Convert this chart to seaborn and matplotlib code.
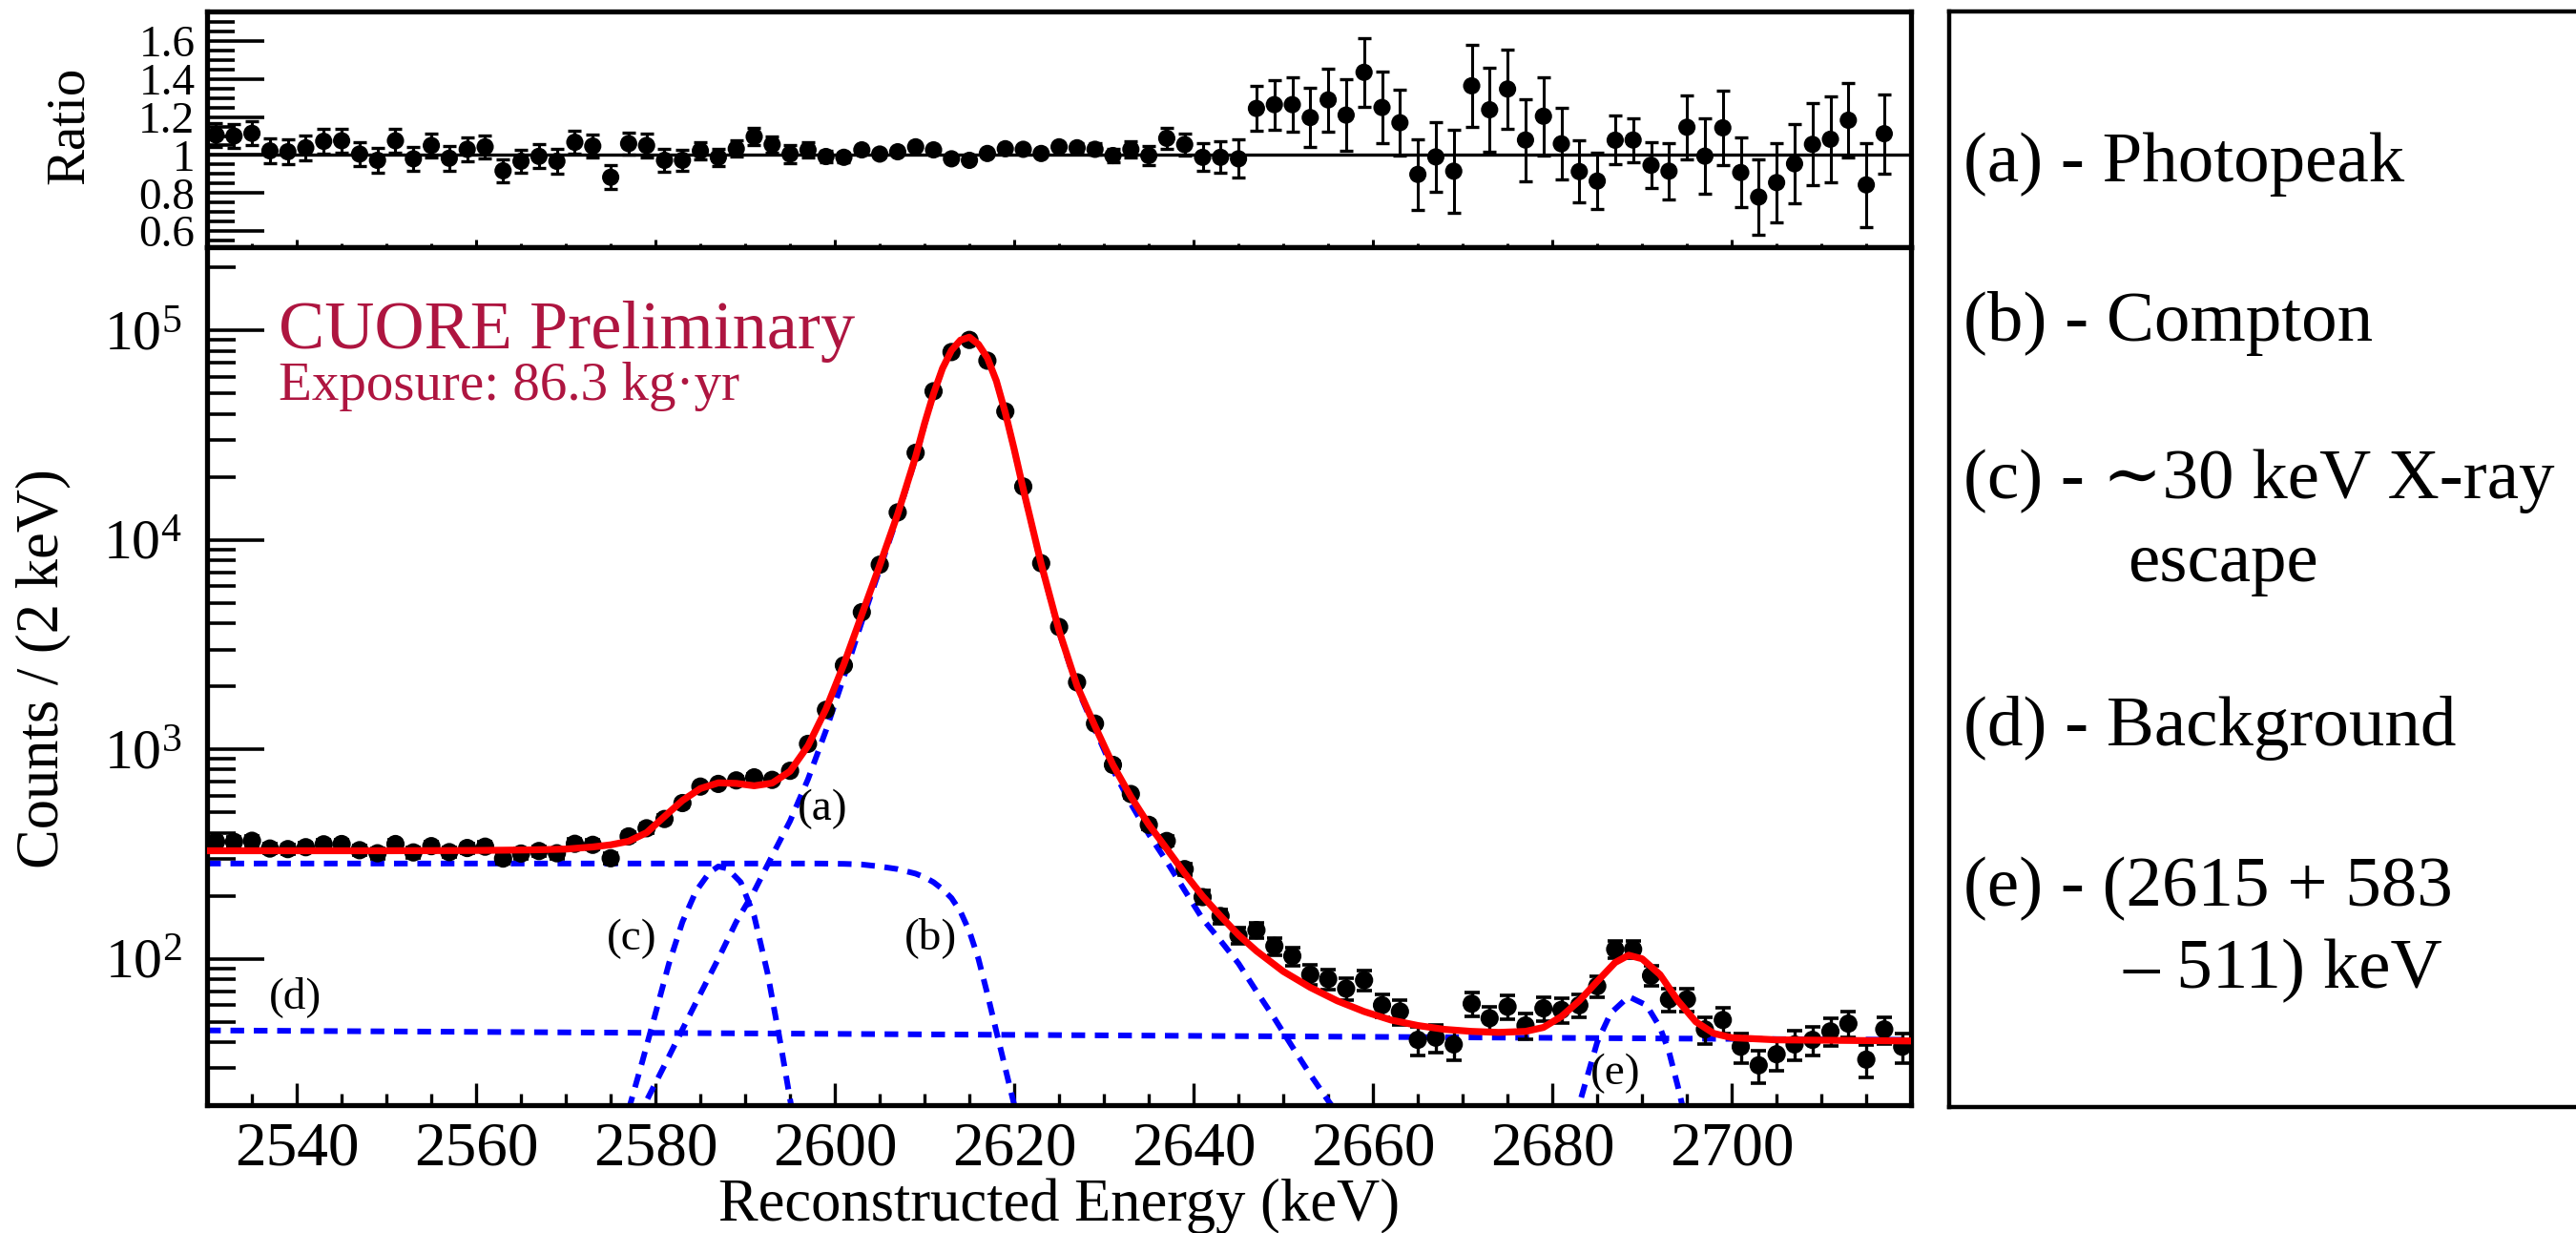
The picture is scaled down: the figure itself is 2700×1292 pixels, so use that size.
import matplotlib
matplotlib.use("Agg")
import matplotlib.pyplot as plt
from matplotlib.ticker import (MultipleLocator, FixedLocator, FixedFormatter,
                               LogLocator, NullFormatter)
import numpy as np
import pandas as pd
import seaborn as sns

sns.set_style("ticks")
plt.rcParams["font.family"] = ["Liberation Serif", "DejaVu Serif"]
plt.rcParams["mathtext.fontset"] = "custom"
plt.rcParams["mathtext.rm"] = "Liberation Serif"
plt.rcParams["mathtext.it"] = "Liberation Serif:italic"
for k in ["axes.edgecolor", "text.color", "axes.labelcolor", "xtick.color", "ytick.color"]:
    plt.rcParams[k] = "black"
plt.rcParams["axes.linewidth"] = 3.8

# ---------------- data ----------------
# 2 keV bins between 2530 and 2720 keV (bin centres)
bin_centres = np.arange(2531, 2720, 2)
counts = [362, 362, 366, 336, 334, 341, 352, 353, 330, 319,
          353, 322, 345, 323, 338, 343, 301, 318, 327, 319,
          354, 350, 302, 384, 420, 465, 554, 664, 684, 711,
          735, 715, 790, 1062, 1544, 2518, 4520, 7620, 13540, 26080,
          51300, 78950, 90200, 71800, 41100, 17990, 7740, 3840, 2090, 1327,
          843, 612, 436, 365, 268, 197, 160, 129, 137, 115,
          103, 84, 80, 72, 79, 60, 56, 41, 42, 39,
          61, 52, 59, 48, 58, 57, 60, 74, 111, 111,
          83, 64, 64, 46, 51, 38, 31, 35, 39, 41,
          45, 49, 33, 46, 38]

# data / fit ratio (top pad)
ratio_e = np.arange(2531, 2718, 2)
ratio = [1.105, 1.100, 1.114, 1.022, 1.017, 1.038, 1.072, 1.075, 1.005, 0.972,
         1.075, 0.980, 1.050, 0.983, 1.030, 1.043, 0.917, 0.967, 0.993, 0.967,
         1.067, 1.047, 0.883, 1.060, 1.050, 0.972, 0.972, 1.022, 0.988, 1.033,
         1.097, 1.055,
         1.005, 1.027, 0.992, 0.988, 1.027, 1.005, 1.017, 1.043, 1.027, 0.980,
         0.972, 1.008, 1.033, 1.030, 1.008, 1.043, 1.038, 1.030, 0.997, 1.030,
         0.997, 1.088, 1.055, 0.988, 0.988, 0.980, 1.245, 1.265, 1.265, 1.197,
         1.290,
         1.210, 1.435, 1.250, 1.170, 0.898, 0.990, 0.915, 1.364, 1.238, 1.347,
         1.079, 1.204, 1.059, 0.913, 0.863, 1.078, 1.079, 0.946, 0.915, 1.146,
         0.994, 1.143, 0.908, 0.779, 0.855, 0.954, 1.056, 1.083, 1.183, 0.843,
         1.112]
ratio_err = [0.062, 0.062, 0.064, 0.063, 0.066, 0.067, 0.066, 0.062, 0.062, 0.064,
             0.061, 0.064, 0.062, 0.065, 0.062, 0.062, 0.060, 0.062, 0.062, 0.065,
             0.062, 0.060, 0.064, 0.060, 0.064, 0.058, 0.054, 0.046, 0.044, 0.043,
             0.046, 0.043,
             0.046, 0.042, 0.032, 0.025, 0.018, 0.014, 0.011, 0.008, 0.006, 0.005,
             0.005, 0.005, 0.006, 0.009, 0.013, 0.018, 0.024, 0.030, 0.036, 0.042,
             0.050, 0.054, 0.060, 0.073, 0.083, 0.100, 0.117, 0.130, 0.143, 0.156,
             0.165,
             0.188, 0.180, 0.190, 0.175, 0.186, 0.185, 0.220, 0.216, 0.223, 0.208,
             0.215, 0.207, 0.188, 0.162, 0.147, 0.128, 0.116, 0.120, 0.147, 0.167,
             0.198, 0.195, 0.184, 0.200, 0.208, 0.210, 0.217, 0.225, 0.194, 0.220,
             0.208]

# total fit (red)
fit_e = [2530, 2540, 2550, 2560, 2566, 2570, 2573, 2575, 2577, 2579, 2581, 2583,
         2585, 2587, 2589, 2591, 2593, 2595, 2597, 2599, 2601, 2603, 2605, 2607,
         2609, 2610, 2611, 2612, 2613, 2614, 2615, 2616, 2617, 2618, 2619, 2620,
         2621, 2623, 2625, 2627, 2629, 2631, 2633, 2635, 2637, 2639, 2641, 2643,
         2645, 2647, 2650, 2653, 2656, 2659, 2662, 2665, 2668, 2671, 2674, 2677,
         2679, 2681, 2683, 2685, 2687, 2688.5, 2690, 2692, 2694, 2696, 2698, 2700,
         2705, 2720]
fit_y = [328, 328, 328, 329, 331, 334, 342, 350, 364, 400, 478, 570,
         650, 692, 688, 670, 690, 786, 1040, 1556, 2550, 4400, 7580, 13300,
         25000, 36000, 50000, 66000, 80500, 90000, 93000, 86000, 74000, 57500, 40500, 27000,
         17500, 7680, 3680, 2010, 1290, 843, 594, 437, 335, 256, 199, 160,
         130, 109, 87, 73, 63, 56, 51, 48, 46, 45, 44.5, 45,
         47, 53, 63, 78, 96, 104, 100, 84, 63, 50, 44, 42,
         41, 40.5]

# (a) photopeak
comp_a_e = [2578, 2579, 2581, 2583, 2585, 2587, 2589, 2591, 2593, 2595, 2597, 2599,
            2601, 2603, 2605, 2607, 2609, 2610, 2611, 2612, 2613, 2614, 2615, 2616,
            2617, 2618, 2619, 2620, 2621, 2623, 2625, 2627, 2629, 2631, 2633, 2635,
            2637, 2639, 2641, 2643, 2645, 2647, 2649, 2651, 2653, 2655, 2657]
comp_a_y = [17, 21, 31, 46, 68, 100, 150, 210, 310, 455, 720, 1230,
            2220, 4070, 7260, 12990, 24700, 35710, 49720, 65740, 80260, 89790, 92820, 85855,
            73890, 57410, 40425, 26935, 17440, 7636, 3636, 1966, 1246, 799, 550, 393,
            291, 212, 155, 122, 95, 70, 52, 38, 28, 21, 16]
# (b) Compton
comp_b_e = [2530, 2560, 2590, 2598, 2601, 2603, 2605, 2607, 2609, 2610, 2611, 2612,
            2613, 2614, 2615, 2616, 2617, 2618, 2619, 2620, 2621]
comp_b_y = [285, 285, 285, 285, 284, 282, 276, 268, 255, 245, 232, 215,
            195, 168, 135, 100, 68, 45, 30, 20, 13]
# (c) ~30 keV X-ray escape
comp_c_e = [2577, 2578.5, 2580, 2581.5, 2583, 2584.5, 2586, 2587, 2588, 2589.5,
            2591, 2592.5, 2594, 2595.5]
comp_c_y = [19, 32, 55, 95, 150, 210, 258, 276, 270, 232, 160, 85, 38, 16]
# (d) background
comp_d_e = [2530, 2720]
comp_d_y = [45.5, 41]
# (e) (2615 + 583 - 511) keV
comp_e_e = [2682.5, 2683.5, 2685, 2686.5, 2688.5, 2690.5, 2692, 2693, 2694, 2695]
comp_e_y = [17, 24, 40, 55, 66, 60, 47, 36, 24.5, 16]

comp_labels = ["(a)", "(b)", "(c)", "(d)", "(e)"]
comp_label_e = [2598.6, 2610.7, 2577.4, 2539.8, 2687]
comp_label_y = [518, 126, 124, 66, 28.2]

x_ticks = [2540, 2560, 2580, 2600, 2620, 2640, 2660, 2680, 2700]
ratio_ticks = [0.6, 0.8, 1.0, 1.2, 1.4, 1.6]
ratio_tick_labels = ["0.6", "0.8", "1", "1.2", "1.4", "1.6"]

legend_lines = ["(a) - Photopeak", "(b) - Compton", "(c) - \u223c30 keV X-ray", "escape",
                "(d) - Background", "(e) - (2615 + 583", "\u2013 511) keV"]

# ---------------- figure ----------------
fig = plt.figure(figsize=(27, 12.92), dpi=100)
ax_r = fig.add_axes([0.0804, 0.7995, 0.6615, 0.1912])
ax = fig.add_axes([0.0804, 0.1037, 0.6615, 0.6958], sharex=ax_r)
ax_leg = fig.add_axes([0.7567, 0.1022, 0.30, 0.8885])

blue_dash = (0, (2.4, 1.7))

# ---- main pad ----
ax.set_yscale("log")
for ce, cy in [(comp_b_e, comp_b_y), (comp_d_e, comp_d_y), (comp_c_e, comp_c_y),
               (comp_a_e, comp_a_y), (comp_e_e, comp_e_y)]:
    sns.lineplot(x=ce, y=cy, ax=ax, color="#0000ff", lw=4.3, ls=blue_dash,
                 estimator=None, sort=False, zorder=2)

df = pd.DataFrame({"energy": bin_centres, "counts": counts})
ax.errorbar(df["energy"], df["counts"], yerr=np.sqrt(df["counts"]), fmt="none",
            ecolor="black", elinewidth=2.4, capsize=5.5, capthick=2.6, zorder=3)
sns.scatterplot(data=df, x="energy", y="counts", ax=ax, color="black", s=190,
                edgecolor="none", zorder=3.5)

sns.lineplot(x=fit_e, y=fit_y, ax=ax, color="#ff0000", lw=5.2, estimator=None,
             sort=False, zorder=4)

for lab, le, ly in zip(comp_labels, comp_label_e, comp_label_y):
    ax.text(le, ly, lab, fontsize=34, ha="center", va="center", zorder=5)

ax.text(0.042, 0.882, "CUORE Preliminary", transform=ax.transAxes, fontsize=52,
        color="#ae1540", ha="left", va="baseline")
ax.text(0.042, 0.822, "Exposure: 86.3 kg\u00b7yr", transform=ax.transAxes, fontsize=41,
        color="#ae1540", ha="left", va="baseline")

ax.set_xlim(2530, 2720)
ax.set_ylim(20, 2.5e5)
ax.xaxis.set_major_locator(FixedLocator(x_ticks))
ax.xaxis.set_minor_locator(MultipleLocator(5))
ax.yaxis.set_major_locator(LogLocator(base=10, numticks=20))
ax.yaxis.set_minor_locator(LogLocator(base=10, subs=np.arange(2, 10), numticks=20))
ax.yaxis.set_minor_formatter(NullFormatter())
ax.tick_params(axis="x", which="major", direction="in", length=16.5, width=2.4,
               labelsize=47, pad=12, top=False)
ax.tick_params(axis="x", which="minor", direction="in", length=8.6, width=2.4, top=False)
ax.tick_params(axis="y", which="major", direction="in", length=43, width=2.6,
               labelsize=43, pad=19, right=False)
ax.tick_params(axis="y", which="minor", direction="in", length=21.6, width=2.6, right=False)
ax.set_xlabel("Reconstructed Energy (keV)", fontsize=45)
ax.xaxis.set_label_coords(0.5, -0.085)
ax.set_ylabel("")

# ---- ratio pad ----
ax_r.axhline(1.0, color="black", lw=2.4, zorder=1)
dr = pd.DataFrame({"energy": ratio_e, "ratio": ratio, "err": ratio_err})
ax_r.errorbar(dr["energy"], dr["ratio"], yerr=dr["err"], fmt="none", ecolor="black",
              elinewidth=2.2, capsize=5, capthick=2.4, zorder=3)
sns.scatterplot(data=dr, x="energy", y="ratio", ax=ax_r, color="black", s=170,
                edgecolor="none", zorder=3.5)
ax_r.set_ylim(0.515, 1.755)
ax_r.yaxis.set_major_locator(FixedLocator(ratio_ticks))
ax_r.yaxis.set_major_formatter(FixedFormatter(ratio_tick_labels))
ax_r.yaxis.set_minor_locator(MultipleLocator(0.05))
ax_r.tick_params(axis="y", which="major", direction="in", length=43, width=2.6,
                 labelsize=34, pad=9, right=False)
ax_r.tick_params(axis="y", which="minor", direction="in", length=21, width=2.6, right=False)
ax_r.tick_params(axis="x", which="major", direction="in", length=5.8, width=2.2,
                 labelbottom=False, top=False)
ax_r.tick_params(axis="x", which="minor", direction="in", length=3, width=2.2, top=False)
ax_r.set_xlabel("")
ax_r.set_ylabel("")

fig.text(0.0270, 0.8986, "Ratio", rotation=90, fontsize=41, ha="center", va="center")
fig.text(0.0167, 0.4574, "Counts / (2 keV)", rotation=90, fontsize=45,
         ha="center", va="center")

# ---- component legend box ----
ax_leg.set_xticks([])
ax_leg.set_yticks([])
ax_leg.spines["right"].set_visible(False)
for s in ["left", "top", "bottom"]:
    ax_leg.spines[s].set_linewidth(3.2)
leg_x = [0.7622, 0.7622, 0.7622, 0.826, 0.7622, 0.7622, 0.8241]
leg_y = [0.8529, 0.7237, 0.5960, 0.5286, 0.3955, 0.2655, 0.1989]
for tx, ty, t in zip(leg_x, leg_y, legend_lines):
    fig.text(tx, ty, t, fontsize=54, ha="left", va="baseline")

fig.savefig("out.png", dpi=100)
